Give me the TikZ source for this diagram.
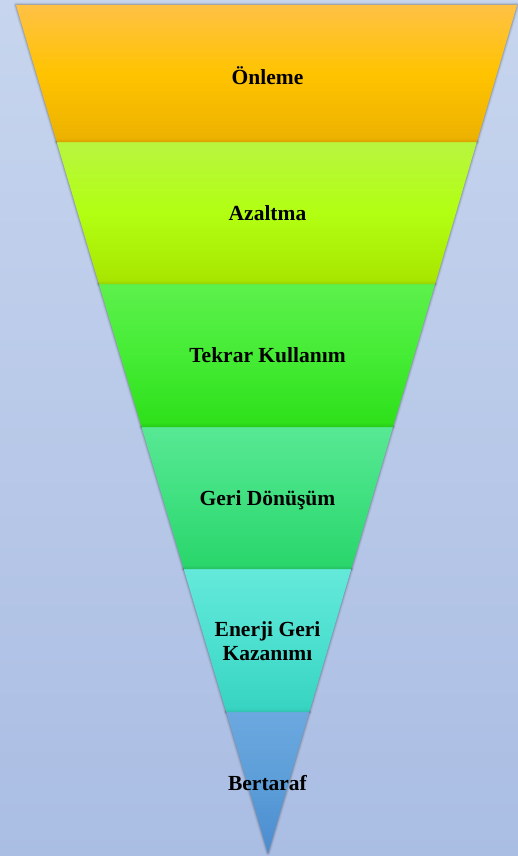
\documentclass[tikz,border=0pt]{standalone}
\usepackage{fontspec}
\setmainfont{Liberation Serif}
\definecolor{bgT}{HTML}{C7D5EE}
\definecolor{bgB}{HTML}{AABDE3}
% band colours: T top, M middle, B bottom, D dark bottom edge
\definecolor{aT}{HTML}{FFC145}\definecolor{aM}{HTML}{FFC300}\definecolor{aB}{HTML}{EDB200}\definecolor{aD}{HTML}{D9A000}
\definecolor{bT}{HTML}{B8F540}\definecolor{bM}{HTML}{B2FF12}\definecolor{bB}{HTML}{A8E600}\definecolor{bD}{HTML}{98D000}
\definecolor{cT}{HTML}{5DF04C}\definecolor{cM}{HTML}{45EC35}\definecolor{cB}{HTML}{2EE01A}\definecolor{cD}{HTML}{28C818}
\definecolor{dT}{HTML}{58E894}\definecolor{dM}{HTML}{40E080}\definecolor{dB}{HTML}{2AD66C}\definecolor{dD}{HTML}{24C060}
\definecolor{eT}{HTML}{64E9DA}\definecolor{eM}{HTML}{4DE0D0}\definecolor{eB}{HTML}{38D4C2}\definecolor{eD}{HTML}{30C0B0}
\definecolor{fT}{HTML}{6CA8E0}\definecolor{fM}{HTML}{5C9ED8}\definecolor{fB}{HTML}{4A8CD0}\definecolor{fD}{HTML}{4A8CD0}
\pgfdeclareverticalshading{shA}{100bp}{color(0bp)=(aD); color(25bp)=(aD); color(26.5bp)=(aB); color(50bp)=(aM); color(75bp)=(aT); color(100bp)=(aT)}
\pgfdeclareverticalshading{shB}{100bp}{color(0bp)=(bD); color(25bp)=(bD); color(26.5bp)=(bB); color(50bp)=(bM); color(75bp)=(bT); color(100bp)=(bT)}
\pgfdeclareverticalshading{shC}{100bp}{color(0bp)=(cD); color(25bp)=(cD); color(26.5bp)=(cB); color(50bp)=(cM); color(75bp)=(cT); color(100bp)=(cT)}
\pgfdeclareverticalshading{shD}{100bp}{color(0bp)=(dD); color(25bp)=(dD); color(26.5bp)=(dB); color(50bp)=(dM); color(75bp)=(dT); color(100bp)=(dT)}
\pgfdeclareverticalshading{shE}{100bp}{color(0bp)=(eD); color(25bp)=(eD); color(26.5bp)=(eB); color(50bp)=(eM); color(75bp)=(eT); color(100bp)=(eT)}
\pgfdeclareverticalshading{shF}{100bp}{color(0bp)=(fD); color(25bp)=(fD); color(50bp)=(fM); color(75bp)=(fT); color(100bp)=(fT)}
\begin{document}
\begin{tikzpicture}[x=1pt,y=-1pt,
  lbl/.style={font=\bfseries\fontsize{21.5}{23.5}\selectfont, inner sep=0pt, text=black, align=center},
  glow/.style={draw=black, line join=round, fill=none, shift={(-1pt,-2pt)}},
  band/.style={draw=none}]
\useasboundingbox (0,0) rectangle (518,856);
\fill[top color=bgT, bottom color=bgB] (0,0) rectangle (518,856);
% corner coordinates
\coordinate (L0) at (16,5);     \coordinate (R0) at (517,5);
\coordinate (L1) at (56.8,142); \coordinate (R1) at (476.7,142);
\coordinate (L2) at (99.0,284); \coordinate (R2) at (435.0,284);
\coordinate (L3) at (141.6,427);\coordinate (R3) at (392.9,427);
\coordinate (L4) at (183.8,569);\coordinate (R4) at (351.2,569);
\coordinate (L5) at (226.3,712);\coordinate (R5) at (309.2,712);
\coordinate (A) at (268,853);
% soft shadows
\foreach \w/\o in {5/0.05,3/0.08,1.5/0.12}{
  \draw[glow, line width=\w pt, opacity=\o] (L0) -- (R0) -- (R1) -- (L1) -- cycle;
  \draw[glow, line width=\w pt, opacity=\o] (L1) -- (R1) -- (R2) -- (L2) -- cycle;
  \draw[glow, line width=\w pt, opacity=\o] (L2) -- (R2) -- (R3) -- (L3) -- cycle;
  \draw[glow, line width=\w pt, opacity=\o] (L3) -- (R3) -- (R4) -- (L4) -- cycle;
  \draw[glow, line width=\w pt, opacity=\o] (L4) -- (R4) -- (R5) -- (L5) -- cycle;
  \draw[glow, line width=\w pt, opacity=\o] (L5) -- (R5) -- (A) -- cycle;
}
% bands (bottom first so upper bands lie on top)
\shade[band, shading=shF] (L5) -- (R5) -- (A) -- cycle;
\shade[band, shading=shE] (L4) -- (R4) -- (R5) -- (L5) -- cycle;
\shade[band, shading=shD] (L3) -- (R3) -- (R4) -- (L4) -- cycle;
\shade[band, shading=shC] (L2) -- (R2) -- (R3) -- (L3) -- cycle;
\shade[band, shading=shB] (L1) -- (R1) -- (R2) -- (L2) -- cycle;
\shade[band, shading=shA] (L0) -- (R0) -- (R1) -- (L1) -- cycle;
% labels
\node[lbl, anchor=base] (n1) at (267.5,85) {Önleme};
\node[lbl, anchor=base] (n2) at (267.5,220) {Azaltma};
\node[lbl, anchor=base] (n3) at (267.5,362) {Tekrar Kullanım};
\node[lbl, anchor=base] (n4) at (267.5,505) {Geri Dönüşüm};
\node[lbl] (n5) at (267.5,641) {Enerji Geri\\Kazanımı};
\node[lbl, anchor=base] (n6) at (267.5,790) {Bertaraf};
\end{tikzpicture}
\end{document}
